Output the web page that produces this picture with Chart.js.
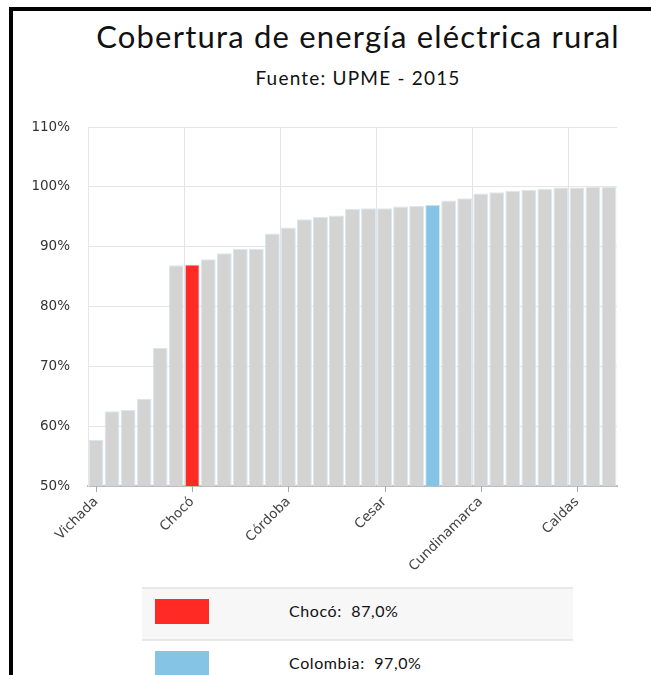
<!DOCTYPE html>
<html>
<head>
<meta charset="utf-8">
<script src="https://cdn.jsdelivr.net/npm/chart.js@4.4.0/dist/chart.umd.min.js"></script>
<style>
    body { margin: 0; background: #fff; width: 651px; height: 675px; overflow: hidden; position: relative; }
    .frame { position: absolute; left: 9px; top: 7px; width: 700px; height: 700px; border-top: 4px solid #000; border-left: 4px solid #000; }
    .title { position: absolute; left: 0; width: 716px; top: 22px; text-align: center; font-family: Lato, sans-serif; font-size: 31px; line-height: 29px; color: #111; letter-spacing: 1.2px; }
    .subtitle { position: absolute; left: 0; width: 716px; top: 69px; text-align: center; font-family: Lato, sans-serif; font-size: 19px; line-height: 18px; color: #111; letter-spacing: 1.2px; }
    .chart-box { position: absolute; left: 0; top: 0; width: 651px; height: 576px; }
    table.summary { position: absolute; left: 142px; top: 587px; width: 431px; border-collapse: collapse; font-family: Lato, sans-serif; font-size: 16px; line-height: 20px; color: #111; }
    table.summary td { padding: 0; vertical-align: top; }
    table.summary tr.first { background: #f7f7f7; border-top: 2px solid #e8e8e8; border-bottom: 2px solid #e8e8e8; }
    table.summary tr.first td { height: 50px; }
    table.summary tr.second td { height: 42px; }
    .swatch { display: block; width: 54px; height: 25px; margin-left: 13px; margin-top: 10px; }
    table.summary td.label { padding-left: 80px; letter-spacing: 0.6px; }
    .label span { display: block; margin-top: 12px; }
</style>
</head>
<body>
<div class="frame"></div>
<div class="title">Cobertura de energía eléctrica rural</div>
<div class="subtitle">Fuente: UPME - 2015</div>
<div class="chart-box"><canvas id="coverageChart"></canvas></div>
<table class="summary">
    <tr class="first"><td style="width:67px"><span class="swatch" style="background:#ff2a23"></span></td><td class="label"><span>Chocó:&nbsp; 87,0%</span></td></tr>
    <tr class="second"><td><span class="swatch" style="background:#85c4e4"></span></td><td class="label"><span>Colombia:&nbsp; 97,0%</span></td></tr>
</table>
<script>
const departments = [
    "Vichada", "Vaupés", "Guainía", "Amazonas", "La Guajira", "Putumayo",
    "Chocó", "Guaviare", "Caquetá", "Cauca", "Nariño", "Magdalena",
    "Córdoba", "Bolívar", "Sucre", "Arauca", "Meta", "Norte de Santander",
    "Cesar", "Casanare", "Huila", "Colombia", "Antioquia", "Tolima",
    "Cundinamarca", "Boyacá", "Santander", "Atlántico", "Risaralda", "Valle del Cauca",
    "Caldas", "Quindío", "San Andrés"
];
const coverage = [
    57.7, 62.5, 62.7, 64.6, 73.1, 86.9,
    87.0, 87.9, 88.9, 89.6, 89.6, 92.2,
    93.2, 94.6, 95.0, 95.2, 96.3, 96.4,
    96.4, 96.7, 96.8, 97.0, 97.7, 98.1,
    98.9, 99.1, 99.3, 99.5, 99.7, 99.9,
    99.9, 100, 100
];
const yTicks = [50, 60, 70, 80, 90, 100, 110];

const barColors = departments.map((d) => {
    if (d === "Chocó") return "#ff2a23";
    if (d === "Colombia") return "#85c4e4";
    return "#d3d3d3";
});

// small tick marks under the labelled bars
const tickMarks = {
    id: "tickMarks",
    afterDraw(chart) {
        const x = chart.scales.x;
        const ctx = chart.ctx;
        ctx.save();
        ctx.strokeStyle = "#a8a8a8";
        ctx.lineWidth = 1;
        for (let i = 0; i < departments.length; i += 6) {
            const px = Math.round(x.getPixelForTick(i)) + 0.5;
            ctx.beginPath();
            ctx.moveTo(px, x.top);
            ctx.lineTo(px, x.top + 6);
            ctx.stroke();
        }
        ctx.restore();
    }
};

new Chart(document.getElementById("coverageChart"), {
    type: "bar",
    data: {
        labels: departments,
        datasets: [{
            data: coverage,
            backgroundColor: barColors,
            borderColor: "#d8e8f1",
            borderWidth: 1,
            categoryPercentage: 0.93,
            barPercentage: 1
        }]
    },
    options: {
        responsive: true,
        maintainAspectRatio: false,
        animation: false,
        layout: { padding: { top: 127, right: 34, left: 0, bottom: 0 } },
        plugins: {
            legend: { display: false },
            tooltip: { enabled: false }
        },
        scales: {
            x: {
                afterFit: (scale) => { scale.height = 90; },
                grid: {
                    offset: true,
                    drawTicks: false,
                    color: (c) => (c.index !== undefined && c.index % 6 === 0 && c.index > 0) ? "#e4e4e4" : "rgba(0,0,0,0)"
                },
                border: { color: "#bdbdbd", width: 2 },
                ticks: {
                    autoSkip: false,
                    maxRotation: 45,
                    minRotation: 45,
                    padding: 8,
                    color: "#444",
                    font: { family: "DejaVu Sans", size: 13.5 },
                    callback: function (value, index) {
                        return index % 6 === 0 ? this.getLabelForValue(value) : "";
                    }
                }
            },
            y: {
                min: yTicks[0],
                max: yTicks[yTicks.length - 1],
                afterFit: (scale) => { scale.width = 88; },
                afterBuildTicks: (scale) => { scale.ticks = yTicks.map((v) => ({ value: v })); },
                grid: { color: "#e6e6e6", drawTicks: false },
                border: { color: "#e6e6e6", width: 1 },
                ticks: {
                    padding: 18,
                    color: "#333",
                    font: { family: "DejaVu Sans", size: 13.5 },
                    callback: (v) => v + "%"
                }
            }
        }
    },
    plugins: [tickMarks]
});
</script>
</body>
</html>
